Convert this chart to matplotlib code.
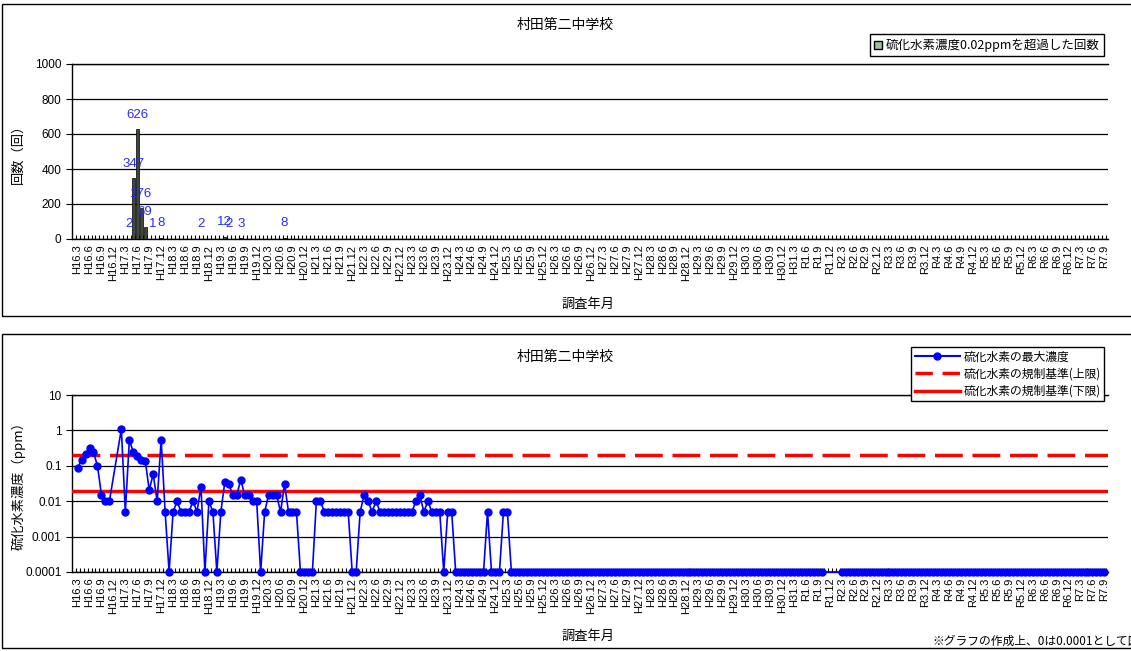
import numpy as np
import matplotlib
matplotlib.use('Agg')
import matplotlib.pyplot as plt
from matplotlib.patches import Rectangle, Patch
from matplotlib.lines import Line2D

JP = ['Noto Sans CJK JP', 'DejaVu Sans']
LAT = ['Liberation Sans', 'DejaVu Sans']
plt.rcParams['font.family'] = JP

# ---------------- data ----------------
chart_title = '村田第二中学校'
x_title = '調査年月'
y_title_top = '回数（回）'
y_title_bottom = '硫化水素濃度（ppm）'
legend_top = '硫化水素濃度0.02ppmを超過した回数'
legend_bottom = ['硫化水素の最大濃度', '硫化水素の規制基準(上限)', '硫化水素の規制基準(下限)']
note_text = '※グラフの作成上、0は0.0001として図示'

# monthly categories H16.3 (2004-03) .. R7.9 (2025-09)
def _month_label(y, m):
    return f'H{y-1988}.{m}' if (y, m) < (2019, 5) else f'R{y-2018}.{m}'
months = []
_y, _m = 2004, 3
while (_y, _m) <= (2025, 9):
    months.append(_month_label(_y, _m))
    _m += 1
    if _m > 12:
        _y, _m = _y + 1, 1

tick_labels = ('H16.3 H16.6 H16.9 H16.12 H17.3 H17.6 H17.9 H17.12 H18.3 H18.6 H18.9 H18.12 '
               'H19.3 H19.6 H19.9 H19.12 H20.3 H20.6 H20.9 H20.12 H21.3 H21.6 H21.9 H21.12 '
               'H22.3 H22.6 H22.9 H22.12 H23.3 H23.6 H23.9 H23.12 H24.3 H24.6 H24.9 H24.12 '
               'H25.3 H25.6 H25.9 H25.12 H26.3 H26.6 H26.9 H26.12 H27.3 H27.6 H27.9 H27.12 '
               'H28.3 H28.6 H28.9 H28.12 H29.3 H29.6 H29.9 H29.12 H30.3 H30.6 H30.9 H30.12 '
               'H31.3 R1.6 R1.9 R1.12 R2.3 R2.6 R2.9 R2.12 R3.3 R3.6 R3.9 R3.12 '
               'R4.3 R4.6 R4.9 R4.12 R5.3 R5.6 R5.9 R5.12 R6.3 R6.6 R6.9 R6.12 '
               'R7.3 R7.6 R7.9').split()

# number of times 0.02 ppm was exceeded (months not listed: none shown)
exceed_counts = {'H17.4': 2, 'H17.5': 347, 'H17.6': 626, 'H17.7': 176, 'H17.8': 69,
                 'H17.10': 1, 'H17.12': 8, 'H18.10': 2, 'H19.4': 12, 'H19.5': 2,
                 'H19.8': 3, 'H20.7': 8}

nan = float('nan')
# monthly maximum H2S concentration (ppm), one row per year starting in March
h2s_max = [
    0.085, 0.15, 0.21, 0.32, 0.24, 0.1, 0.015, 0.01, 0.01, nan, nan, 1.1,
    0.005, 0.52, 0.25, 0.19, 0.15, 0.14, 0.021, 0.058, 0.01, 0.55, 0.005, 0,
    0.005, 0.01, 0.005, 0.005, 0.005, 0.01, 0.005, 0.026, 0, 0.01, 0.005, 0,
    0.005, 0.035, 0.03, 0.015, 0.015, 0.04, 0.015, 0.015, 0.01, 0.01, 0, 0.005,
    0.015, 0.015, 0.015, 0.005, 0.03, 0.005, 0.005, 0.005, 0, 0, 0, 0,
    0.01, 0.01, 0.005, 0.005, 0.005, 0.005, 0.005, 0.005, 0.005, 0, 0, 0.005,
    0.015, 0.01, 0.005, 0.01, 0.005, 0.005, 0.005, 0.005, 0.005, 0.005, 0.005, 0.005,
    0.005, 0.01, 0.015, 0.005, 0.01, 0.005, 0.005, 0.005, 0, 0.005, 0.005, 0,
    0, 0, 0, 0, 0, 0, 0, 0.005, 0, 0, 0, 0.005,
    0.005, 0, 0, 0, 0, 0, 0, 0, 0, 0, 0, 0,
    0, 0, 0, 0, 0, 0, 0, 0, 0, 0, 0, 0,
    0, 0, 0, 0, 0, 0, 0, 0, 0, 0, 0, 0,
    0, 0, 0, 0, 0, 0, 0, 0, 0, 0, 0, 0,
    0, 0, 0, 0, 0, 0, 0, 0, 0, 0, 0, 0,
    0, 0, 0, 0, 0, 0, 0, 0, 0, 0, 0, 0,
    0, 0, 0, 0, 0, 0, 0, 0, nan, nan, nan, nan,
    0, 0, 0, 0, 0, 0, 0, 0, 0, 0, 0, 0,
    0, 0, 0, 0, 0, 0, 0, 0, 0, 0, 0, 0,
    0, 0, 0, 0, 0, 0, 0, 0, 0, 0, 0, 0,
    0, 0, 0, 0, 0, 0, 0, 0, 0, 0, 0, 0,
    0, 0, 0, 0, 0, 0, 0, 0, 0, 0, 0, 0,
    0, 0, 0, 0, 0, 0, 0,
]
upper_limit = 0.2
lower_limit = 0.02
zero_plot_value = 0.0001

# ---------------- figure ----------------
W, H = 1131, 651
fig = plt.figure(figsize=(W / 100, H / 100), dpi=100)

def fx(px):
    return px / W

def fy(py):
    return 1 - py / H

# chart frames
for (y0, y1) in [(4, 316), (334, 648)]:
    fig.patches.append(Rectangle((fx(2), fy(y1)), 1.2, fy(y0) - fy(y1), transform=fig.transFigure,
                                 fill=False, edgecolor='black', lw=1.0, clip_on=False))

x = np.arange(len(months))
tick_pos = [months.index(t) for t in tick_labels]
xlim = (-1.4, 258.9)

def style_xaxis(ax):
    ax.set_xlim(*xlim)
    ax.set_xticks(tick_pos)
    ax.set_xticklabels(tick_labels, rotation=90, fontsize=8, family=LAT)
    ax.set_xticks(np.arange(-0.5, len(months)), minor=True)
    ax.tick_params(axis='x', which='major', length=0, pad=4)
    ax.tick_params(axis='x', which='minor', direction='in', length=3, width=0.8, color='black')
    ax.tick_params(axis='y', which='major', direction='out', length=4, width=0.8, labelsize=8.5)
    for lab in ax.get_yticklabels():
        lab.set_family(LAT)
    ax.spines['right'].set_visible(False)
    for s in ['left', 'bottom', 'top']:
        ax.spines[s].set_color('black')
        ax.spines[s].set_linewidth(1.0)
    ax.grid(axis='y', color='black', lw=0.9)
    ax.set_axisbelow(True)

# ---- top: exceedance counts ----
ax1 = fig.add_axes([fx(72), fy(239), fx(1108) - fx(72), fy(64) - fy(239)])
counts = np.array([exceed_counts.get(m, 0) for m in months], float)
ax1.bar(x, counts, width=0.7, color='#3c4a3c', edgecolor='black', linewidth=0.5, zorder=3)
for i, v in enumerate(counts):
    if v > 0:
        ax1.annotate(f'{int(v)}', (x[i], v), xytext=(0, 10.5), textcoords='offset points',
                     ha='center', va='center', color='#2a2aff', fontsize=9.5, family=LAT, zorder=4)
ax1.set_ylim(0, 1000)
ax1.set_yticks([0, 200, 400, 600, 800, 1000])
ax1.set_yticklabels(['0', '200', '400', '600', '800', '1000'])
style_xaxis(ax1)
ax1.legend(handles=[Patch(facecolor='#9fbf9f', edgecolor='black', lw=1.0)], labels=[legend_top],
           loc='upper right', bbox_to_anchor=(fx(1110), fy(28)), bbox_transform=fig.transFigure,
           fontsize=9, handlelength=0.6, handleheight=0.6, handletextpad=0.3, borderpad=0.35,
           fancybox=False, framealpha=1, edgecolor='black')
ax1.get_legend().get_frame().set_linewidth(1.0)

fig.text(fx(565), fy(25), chart_title, ha='center', va='center', fontsize=10)
fig.text(fx(18), fy(151), y_title_top, ha='center', va='center', rotation=90, fontsize=9.5)
fig.text(fx(588), fy(304), x_title, ha='center', va='center', fontsize=9.5)

# ---- bottom: maximum concentration ----
ax2 = fig.add_axes([fx(72), fy(572), fx(1108) - fx(72), fy(395) - fy(572)])
conc = np.array(h2s_max, float)
plot_vals = np.where(conc == 0, zero_plot_value, conc)
valid = ~np.isnan(plot_vals)
ax2.axhline(upper_limit, color='#ff0000', lw=2.5, ls=(0, (8, 2.8)), zorder=3)
ax2.axhline(lower_limit, color='#ff0000', lw=2.5, zorder=3)
ax2.plot(x[valid], plot_vals[valid], '-o', color='#0000ff', lw=1.2, ms=5, zorder=4, clip_on=False)
ax2.set_yscale('log')
ax2.set_ylim(1e-4, 10)
ax2.set_yticks([1e-4, 1e-3, 1e-2, 1e-1, 1, 10])
ax2.set_yticklabels(['0.0001', '0.001', '0.01', '0.1', '1', '10'])
ax2.yaxis.set_minor_locator(matplotlib.ticker.NullLocator())
style_xaxis(ax2)

handles = [Line2D([], [], color='#0000ff', lw=1.5, marker='o', ms=5),
           Line2D([], [], color='#ff0000', lw=2.5, ls=(0, (5, 2.8))),
           Line2D([], [], color='#ff0000', lw=2.5)]
leg2 = ax2.legend(handles=handles, labels=legend_bottom, loc='upper right',
                  bbox_to_anchor=(fx(1110), fy(341)), bbox_transform=fig.transFigure,
                  fontsize=8.5, handlelength=3.8, handletextpad=0.3, borderpad=0.3,
                  labelspacing=0.35, fancybox=False, framealpha=1, edgecolor='black')
leg2.get_frame().set_linewidth(1.0)

fig.text(fx(565), fy(357), chart_title, ha='center', va='center', fontsize=10)
fig.text(fx(18), fy(483), y_title_bottom, ha='center', va='center', rotation=90, fontsize=9.5)
fig.text(fx(588), fy(636), x_title, ha='center', va='center', fontsize=9.5)
fig.text(fx(932), fy(641), note_text, ha='left', va='center', fontsize=8.5)

fig.savefig('out.png', dpi=100)
